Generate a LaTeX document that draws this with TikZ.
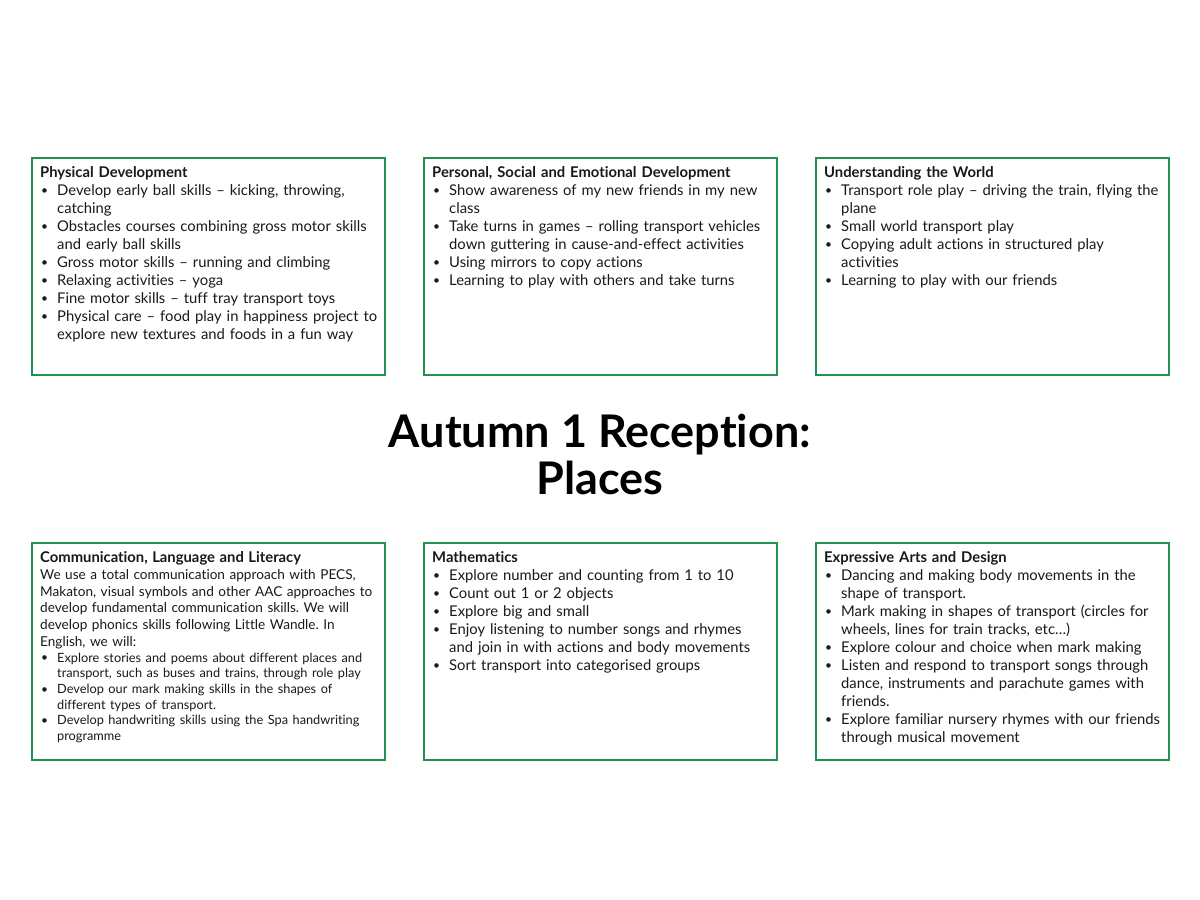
\documentclass[tikz,border=0pt]{standalone}
\usepackage{fontspec}
\setmainfont{Lato}[Ligatures=NoCommon]
\usepackage{xcolor}
\usepackage{tikz}
\usetikzlibrary{positioning,calc}
\definecolor{EYFSGreen}{RGB}{32,148,78}
\definecolor{BodyText}{RGB}{25,25,25}
% muc gach dau dong
\newcommand{\itm}[1]{\par\hangindent=17pt\hangafter=1\noindent\makebox[17pt][l]{\hspace{1pt}\raisebox{0.05ex}{\fontsize{12}{12}\selectfont\textbullet}}#1\par}
\newcommand{\nohyph}{\hyphenpenalty=10000\relax\exhyphenpenalty=10000\relax}

\begin{document}
\begin{tikzpicture}[x=1pt, y=-1pt,
                % Style khung (Xanh la)
                areabox/.style={draw=EYFSGreen, line width=2pt, minimum width=353pt, minimum height=217pt, anchor=north west, inner sep=0pt},
                % Style noi dung trong khung
                areatext/.style={anchor=north west, inner sep=0pt, text width=337.6pt, align=left, text=BodyText, font=\fontsize{14.8}{18}\selectfont\frenchspacing\nohyph},
                % Style tieu de
                maintitle/.style={align=center, text=black, font=\fontsize{45}{47}\selectfont\bfseries}
            ]
                \useasboundingbox[fill=white] (0,0) rectangle (1200,900);

                % --- HANG TREN ---
                \node[areabox] (pd) at (31,157) {};
                \node[areabox] (psed) at (423,157) {};
                \node[areabox] (uw) at (815,157) {};

                % --- HANG DUOI ---
                \node[areabox] (cll) at (31,542) {};
                \node[areabox] (maths) at (423,542) {};
                \node[areabox] (ead) at (815,542) {};

                % --- TIEU DE ---
                \node[maintitle] (title) at (600,454) {Autumn 1 Reception:\\Places};

                % --- NOI DUNG ---
                \node[areatext] (pdtxt) at ($(pd.north west)+(9,9)$) {\textbf{Physical Development}
                    \itm{Develop early ball skills – kicking, throwing, catching}
                    \itm{Obstacles courses combining gross motor skills and early ball skills}
                    \itm{Gross motor skills – running and climbing}
                    \itm{Relaxing activities – yoga}
                    \itm{Fine motor skills – tuff tray transport toys}
                    \itm{Physical care – food play in happiness project to explore new textures and foods in a fun way}};

                \node[areatext] (psedtxt) at ($(psed.north west)+(9,9)$) {\textbf{Personal, Social and Emotional Development}
                    \itm{Show awareness of my new friends in my new class}
                    \itm{Take turns in games – rolling transport vehicles down guttering in cause-and-effect activities}
                    \itm{Using mirrors to copy actions}
                    \itm{Learning to play with others and take turns}};

                \node[areatext] (uwtxt) at ($(uw.north west)+(9,9)$) {\textbf{Understanding the World}
                    \itm{Transport role play – driving the train, flying the plane}
                    \itm{Small world transport play}
                    \itm{Copying adult actions in structured play activities}
                    \itm{Learning to play with our friends}};

                \node[areatext, font=\fontsize{13.6}{16.9}\selectfont\frenchspacing\nohyph] (clltxt) at ($(cll.north west)+(9,9)$) {{\fontsize{14.8}{16.9}\selectfont\textbf{Communication, Language and Literacy}}\par
                    We use a total communication approach with PECS,\newline Makaton, visual symbols and other AAC approaches to\newline develop fundamental communication skills. We will\newline develop phonics skills following Little Wandle. In\newline English, we will:\par
                    {\fontsize{12.75}{15.6}\selectfont
                    \itm{Explore stories and poems about different places and transport, such as buses and trains, through role play}
                    \itm{Develop our mark making skills in the shapes of different types of transport.}
                    \itm{Develop handwriting skills using the Spa handwriting programme}}};

                \node[areatext] (mathstxt) at ($(maths.north west)+(9,9)$) {\textbf{Mathematics}
                    \itm{Explore number and counting from 1 to 10}
                    \itm{Count out 1 or 2 objects}
                    \itm{Explore big and small}
                    \itm{Enjoy listening to number songs and rhymes and join in with actions and body movements}
                    \itm{Sort transport into categorised groups}};

                \node[areatext] (eadtxt) at ($(ead.north west)+(9,9)$) {\textbf{Expressive Arts and Design}
                    \itm{Dancing and making body movements in the shape of transport.}
                    \itm{Mark making in shapes of transport (circles for wheels, lines for train tracks, etc…)}
                    \itm{Explore colour and choice when mark making}
                    \itm{Listen and respond to transport songs through dance, instruments and parachute games with friends.}
                    \itm{Explore familiar nursery rhymes with our friends through musical movement}};

            \end{tikzpicture}
\end{document}
